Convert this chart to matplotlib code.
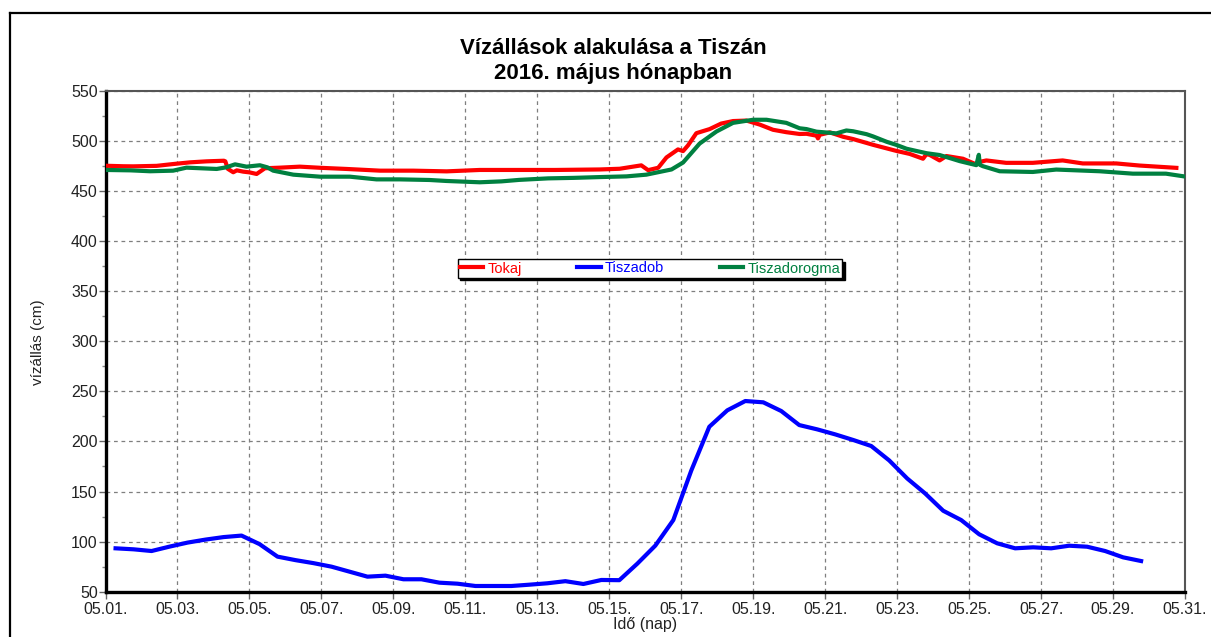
import matplotlib
matplotlib.use("Agg")
import matplotlib.pyplot as plt
from matplotlib.lines import Line2D

plt.rcParams['font.family'] = ['Liberation Sans', 'DejaVu Sans']

# ---------------- data ----------------
tiszadob_day = [1.28, 1.78, 2.28, 2.78, 3.28, 3.78, 4.28, 4.78, 5.28, 5.78, 6.28, 6.78,
                7.28, 7.78, 8.28, 8.78, 9.28, 9.78, 10.28, 10.78, 11.28, 11.78, 12.28,
                12.78, 13.28, 13.78, 14.28, 14.78, 15.28, 15.78, 16.28, 16.78, 17.28,
                17.78, 18.28, 18.78, 19.28, 19.78, 20.28, 20.78, 21.28, 21.78, 22.28,
                22.78, 23.28, 23.78, 24.28, 24.78, 25.28, 25.78, 26.28, 26.78, 27.28,
                27.78, 28.28, 28.78, 29.28, 29.78]
tiszadob_val = [93.3, 92.3, 90.6, 95.0, 99.0, 102.0, 104.5, 106.0, 97.5, 85.0, 81.5, 78.5,
                75.0, 70.0, 65.0, 66.0, 62.4, 62.4, 59.0, 58.0, 55.7, 55.7, 55.7,
                57.0, 58.4, 60.5, 57.7, 61.7, 61.5, 78.0, 96.0, 121.5, 171.0,
                214.6, 231.0, 240.3, 239.0, 230.3, 216.3, 212.0, 207.0, 201.4, 195.4,
                181.0, 163.0, 148.0, 130.8, 121.5, 107.3, 98.3, 93.3, 94.3, 93.3,
                95.9, 94.9, 90.6, 84.3, 80.6]

tokaj_day = [1.0, 1.5, 1.77, 2.42, 2.88, 3.35, 3.81, 4.29, 4.33, 4.4, 4.55, 4.65, 4.83,
             5.0, 5.2, 5.43, 5.85, 6.4, 7.0, 7.7, 8.63, 9.55, 10.48, 11.4, 12.5, 13.5,
             14.74, 15.29, 15.89, 16.08, 16.36, 16.59, 16.91, 17.05, 17.19, 17.42,
             17.79, 18.11, 18.44, 18.81, 19.18, 19.55, 19.92, 20.29, 20.48, 20.76,
             20.8, 20.85, 21.13, 21.5, 21.78, 22.33, 22.98, 23.35, 23.72, 23.81, 23.9,
             24.18, 24.37, 24.83, 25.2, 25.3, 25.48, 26.03, 26.77, 27.6, 28.16, 29.09,
             29.74, 30.76]
tokaj_val = [475.1, 474.6, 474.5, 475.0, 476.8, 478.5, 479.5, 480.1, 479.5, 472.0, 468.6,
             470.5, 469.2, 468.5, 466.9, 472.6, 473.2, 474.2, 473.0, 471.9, 470.2, 470.2,
             469.5, 470.9, 470.9, 470.9, 471.4, 472.1, 475.5, 470.7, 473.1, 483.4,
             491.4, 489.7, 495.5, 507.6, 511.7, 517.2, 519.7, 520.2, 516.2, 511.0,
             508.6, 506.8, 507.0, 505.1, 502.4, 506.0, 508.4, 504.0, 501.7, 496.0,
             489.9, 486.9, 482.1, 486.5, 486.0, 480.4, 484.8, 482.1, 476.4, 479.0,
             480.4, 478.0, 478.0, 480.4, 477.4, 477.4, 475.3, 473.0]

dorogma_day = [1.0, 1.7, 2.24, 2.88, 3.25, 4.09, 4.35, 4.6, 4.92, 5.29, 5.5, 5.66, 6.22,
               6.96, 7.79, 8.53, 9.18, 10.0, 10.48, 11.4, 12.0, 12.5, 13.3, 14.0, 14.74,
               15.48, 16.03, 16.73, 17.05, 17.51, 17.98, 18.44, 19.0, 19.37, 19.92,
               20.29, 20.48, 20.76, 21.03, 21.31, 21.59, 21.78, 22.15, 22.33, 22.71,
               22.98, 23.26, 23.53, 23.82, 24.18, 24.46, 24.74, 25.2, 25.27, 25.3,
               25.38, 25.85, 26.77, 27.42, 28.63, 29.55, 30.47, 30.97]
dorogma_val = [470.9, 470.5, 469.6, 470.2, 473.2, 471.9, 473.5, 476.5, 474.2, 475.6,
               473.5, 470.2, 466.2, 464.2, 464.2, 461.5, 461.5, 460.9, 459.9, 458.6,
               459.5, 461.0, 462.5, 463.0, 463.8, 464.5, 466.2, 471.4, 478.3, 497.2,
               509.3, 517.9, 521.0, 521.0, 517.9, 512.5, 511.7, 509.1, 508.3, 507.4,
               510.3, 509.5, 506.6, 504.4, 499.0, 495.9, 492.1, 489.9, 487.6, 485.8,
               482.8, 479.7, 475.7, 486.0, 476.0, 474.7, 469.6, 468.9, 471.3, 469.6,
               467.2, 467.2, 464.5]

xtick_days = [1, 3, 5, 7, 9, 11, 13, 15, 17, 19, 21, 23, 25, 27, 29, 31]
xtick_labels = ['05.01.', '05.03.', '05.05.', '05.07.', '05.09.', '05.11.', '05.13.',
                '05.15.', '05.17.', '05.19.', '05.21.', '05.23.', '05.25.', '05.27.',
                '05.29.', '05.31.']
yticks = [50, 100, 150, 200, 250, 300, 350, 400, 450, 500, 550]

series_names = ['Tokaj', 'Tiszadob', 'Tiszadorogma']
series_colors = ['#ff0000', '#0000ff', '#008040']

# ---------------- figure ----------------
W, H = 1211, 637
fig = plt.figure(figsize=(W / 100, H / 100), dpi=100)
fig.patch.set_facecolor('white')
ax = fig.add_axes([105.5 / W, 1 - 591.7 / H, (1185 - 105.5) / W, (591.7 - 90.7) / H])

lw = 3.0
ax.plot(tokaj_day, tokaj_val, color=series_colors[0], lw=lw, label=series_names[0],
        solid_joinstyle='round', zorder=3)
ax.plot(tiszadob_day, tiszadob_val, color=series_colors[1], lw=lw, label=series_names[1],
        solid_joinstyle='round', zorder=3)
ax.plot(dorogma_day, dorogma_val, color=series_colors[2], lw=lw, label=series_names[2],
        solid_joinstyle='round', zorder=4)

ax.set_xlim(1, 31)
ax.set_ylim(50, 550)
ax.set_xticks(xtick_days)
ax.set_xticklabels(xtick_labels)
ax.set_yticks(yticks)
ax.set_yticks([75 + 50 * i for i in range(10)], minor=True)

ax.grid(True, which='major', color='#7f7f7f', linestyle=(0, (3, 3)), lw=0.9)
ax.set_axisbelow(True)

ax.tick_params(axis='both', which='major', labelsize=11.5, labelcolor='#222222',
               color='#666666', length=5, width=1, direction='out')
ax.tick_params(axis='x', pad=2.5)
ax.tick_params(axis='y', pad=0.5)
ax.tick_params(axis='y', which='minor', length=3, color='#888888', width=1)

for s in ['left', 'bottom']:
    ax.spines[s].set_color('black')
    ax.spines[s].set_linewidth(2.4)
for s in ['top', 'right']:
    ax.spines[s].set_color('#555555')
    ax.spines[s].set_linewidth(1.5)

fig.text(613 / W, 1 - 49 / H, 'Vízállások alakulása a Tiszán', ha='center', va='center',
         fontsize=16, fontweight='bold', color='black')
fig.text(613 / W, 1 - 74 / H, '2016. május hónapban', ha='center', va='center',
         fontsize=16, fontweight='bold', color='black')
fig.text(645 / W, 1 - 629 / H, 'Idő (nap)', ha='center', va='baseline', fontsize=11.5,
         color='#222222')
fig.text(38 / W, 1 - 342 / H, 'vízállás (cm)', ha='center', va='center', fontsize=11,
         rotation=90, color='#222222')

leg = ax.legend(loc='center', bbox_to_anchor=((650 - 105.5) / (1185 - 105.5),
                (591.7 - 268.5) / (591.7 - 90.7)), ncol=3, fontsize=10.5,
                frameon=True, fancybox=False, shadow={'color': 'black', 'alpha': 1.0},
                handlelength=1.6, handletextpad=0.3, columnspacing=3.8,
                borderpad=0.15, borderaxespad=0, labelcolor='linecolor')
leg.get_frame().set_edgecolor('black')
leg.get_frame().set_linewidth(1.0)
for h in leg.get_lines():
    h.set_linewidth(3.0)

# outer frame (top and left edges)
fig.add_artist(Line2D([10 / W, 1.0], [1 - 13 / H, 1 - 13 / H], color='black', lw=1.6,
                      transform=fig.transFigure))
fig.add_artist(Line2D([10 / W, 10 / W], [1 - 13 / H, 0.0], color='black', lw=1.6,
                      transform=fig.transFigure))

fig.savefig('out.png', dpi=100)
